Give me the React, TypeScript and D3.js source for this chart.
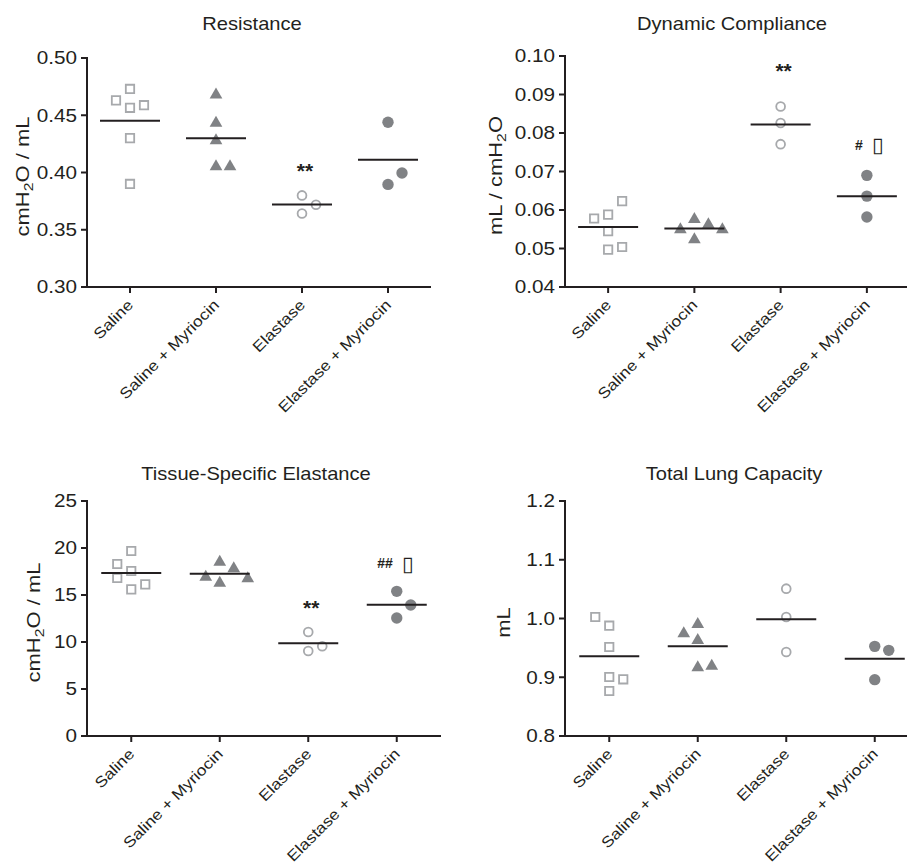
import React from 'react';
import * as d3 from 'd3';

const groups = ['Saline', 'Saline + Myriocin', 'Elastase', 'Elastase + Myriocin'];

// Resistance (cmH2O / mL)
const resSaline = [0.473, 0.4565, 0.4588, 0.463, 0.43, 0.39];
const resSalineMyr = [0.4679, 0.4431, 0.4279, 0.4051, 0.4051];
const resElastase = [0.38, 0.3718, 0.3642];
const resElastaseMyr = [0.4439, 0.3896, 0.3996];
const resTicks = [0.3, 0.35, 0.4, 0.45, 0.5];
const resMarks = ['', '', '**', ''];
const resMarkAt = [0, 0, 0.4066, 0];

// Dynamic compliance (mL / cmH2O)
const dcSaline = [0.0588, 0.0623, 0.0578, 0.0545, 0.0497, 0.0504];
const dcSalineMyr = [0.0576, 0.0523, 0.0562, 0.0549, 0.0549];
const dcElastase = [0.0869, 0.0826, 0.0771];
const dcElastaseMyr = [0.069, 0.0636, 0.0582];
const dcTicks = [0.04, 0.05, 0.06, 0.07, 0.08, 0.09, 0.1];
const dcMarks = ['', '', '**', '#\u25AF'];
const dcMarkAt = [0, 0, 0.0977, 0.0769];

// Tissue-specific elastance (cmH2O / mL)
const teSaline = [19.68, 17.55, 15.6, 16.13, 18.3, 16.81];
const teSalineMyr = [18.51, 16.28, 17.8, 16.91, 16.74];
const teElastase = [11.06, 9.04, 9.54];
const teElastaseMyr = [15.39, 12.55, 13.94];
const teTicks = [0, 5, 10, 15, 20, 25];
const teMarks = ['', '', '**', '##\u25AF'];
const teMarkAt = [0, 0, 14.29, 18.4];

// Total lung capacity (mL)
const tlcSaline = [0.9878, 0.9515, 0.9004, 0.8766, 0.8965, 1.0026];
const tlcSalineMyr = [0.9901, 0.9628, 0.9163, 0.9191, 0.9745];
const tlcElastase = [1.0508, 1.0026, 0.943];
const tlcElastaseMyr = [0.9526, 0.8959, 0.9458];
const tlcTicks = [0.8, 0.9, 1.0, 1.1, 1.2];

const INK = '#231f20';
const LIGHT = '#a7a9ac';
const DARK = '#808285';
const FONT = '"Liberation Sans", Arial, sans-serif';
const WIDE = 1.15; // the original lettering is a bit wider than Arial

const STEP = 14;
const MIN_GAP = 13.75;

// simple column swarm: points that would overlap get pushed to side columns
function swarm(vals: number[], y: (v: number) => number) {
  const placed: { col: number; py: number }[] = [];
  let moved = 0;
  return vals.map((v) => {
    const py = y(v);
    const free = (col: number) => !placed.some((p) => p.col === col && Math.abs(p.py - py) < MIN_GAP);
    let col = 0;
    if (!free(0)) {
      const s = moved % 2 === 0 ? 1 : -1;
      col = [s, -s, 2 * s, -2 * s, 3 * s, -3 * s].find(free) ?? 0;
      moved += 1;
    }
    placed.push({ col, py });
    return col * STEP;
  });
}

type STextProps = {
  x: number; y: number; size: number; rotate?: number;
  anchor?: 'start' | 'middle' | 'end'; baseline?: string;
  children: React.ReactNode;
};

const SText = ({ x, y, size, rotate = 0, anchor = 'start', baseline, children }: STextProps) => (
  <text
    transform={`translate(${x},${y}) rotate(${rotate}) scale(${WIDE},1)`}
    textAnchor={anchor}
    dominantBaseline={baseline}
    fontSize={size}
  >
    {children}
  </text>
);

type Layout = {
  x0: number; x1: number; top: number; bottom: number;
  titleX: number; titleY: number; labelX: number;
};

type PanelProps = {
  title: string;
  yLabel: React.ReactNode;
  series: number[][];
  ticks: number[];
  format: (d: number) => string;
  marks?: string[];
  markAt?: number[];
  lay: Layout;
};

const Marker = ({ kind, x, y }: { kind: number; x: number; y: number }) => {
  if (kind === 0) {
    return <path d={d3.symbol(d3.symbolSquare, 70)() as string} transform={`translate(${x},${y})`} fill="#fff" stroke={LIGHT} strokeWidth={1.8} />;
  }
  if (kind === 1) {
    return <path d={d3.symbol(d3.symbolTriangle, 70)() as string} transform={`translate(${x},${y})`} fill={DARK} />;
  }
  if (kind === 2) {
    return <circle cx={x} cy={y} r={4.4} fill="#fff" stroke={LIGHT} strokeWidth={1.8} />;
  }
  return <circle cx={x} cy={y} r={5.7} fill={DARK} />;
};

const Panel = ({ title, yLabel, series, ticks, format, marks, markAt, lay }: PanelProps) => {
  const xScale = d3.scalePoint<string>().domain(groups).range([lay.x0, lay.x1]).padding(0.5);
  const yScale = d3.scaleLinear()
    .domain([ticks[0], ticks[ticks.length - 1]])
    .range([lay.bottom, lay.top]);

  return (
    <g fontFamily={FONT} fill={INK}>
      <SText x={lay.titleX} y={lay.titleY} anchor="middle" size={17.5}>{title}</SText>
      <text
        transform={`translate(${lay.labelX}, ${(lay.top + lay.bottom) / 2 + 4}) rotate(-90) scale(1.22,1)`}
        textAnchor="middle"
        fontSize={18}
      >
        {yLabel}
      </text>

      {/* data */}
      {series.map((vals, gi) => {
        const cx = xScale(groups[gi]) as number;
        const offs = swarm(vals, yScale);
        const mean = d3.mean(vals) as number;
        return (
          <g key={groups[gi]}>
            {vals.map((v, i) => (
              <Marker key={i} kind={gi} x={cx + offs[i]} y={yScale(v)} />
            ))}
            <line x1={cx - 30} x2={cx + 30} y1={yScale(mean)} y2={yScale(mean)} stroke={INK} strokeWidth={2} />
          </g>
        );
      })}

      {/* significance marks */}
      {marks && markAt && marks.map((m, gi) => {
        if (!m) return null;
        const cx = xScale(groups[gi]) as number;
        const y = yScale(markAt[gi]);
        if (m.startsWith('*')) {
          return (
            <text key={`m${gi}`} x={cx + 3} y={y} dy="0.62em" textAnchor="middle" fontWeight="bold" fontSize={21}>{m}</text>
          );
        }
        const hashes = m.replace('\u25AF', '');
        return (
          <g key={`m${gi}`}>
            <text x={cx - 4} y={y} dy="0.36em" textAnchor="end" fontWeight="bold" fontSize={14}>{hashes}</text>
            <text x={cx + 11} y={y} dy="0.36em" textAnchor="middle" fontWeight="bold" fontSize={21} fontFamily='"DejaVu Sans"'>{'\u25AF'}</text>
          </g>
        );
      })}

      {/* y axis */}
      <line x1={lay.x0} x2={lay.x0} y1={lay.top - 1} y2={lay.bottom + 1} stroke={INK} strokeWidth={2} />
      {ticks.map((t) => (
        <g key={t}>
          <line x1={lay.x0 - 6} x2={lay.x0} y1={yScale(t)} y2={yScale(t)} stroke={INK} strokeWidth={2} />
          <SText x={lay.x0 - 10} y={yScale(t)} anchor="end" baseline="central" size={18}>{format(t)}</SText>
        </g>
      ))}

      {/* x axis */}
      <line x1={lay.x0 - 1} x2={lay.x1} y1={lay.bottom} y2={lay.bottom} stroke={INK} strokeWidth={2} />
      {groups.map((g) => {
        const cx = xScale(g) as number;
        return (
          <g key={g}>
            <line x1={cx} x2={cx} y1={lay.bottom} y2={lay.bottom + 6} stroke={INK} strokeWidth={2} />
            <SText x={cx + 4} y={lay.bottom + 19} rotate={-45} anchor="end" size={15.2}>{g}</SText>
          </g>
        );
      })}
    </g>
  );
};

const Sub2 = () => (
  <>
    <tspan dy={4} fontSize={13}>2</tspan>
    <tspan dy={-4}>O</tspan>
  </>
);

const App = () => (
  <div style={{ position: 'absolute', left: 0, top: 0 }}>
    <svg width={907} height={866} style={{ display: 'block', background: '#fff' }}>
      <Panel
        title="Resistance"
        yLabel={<>cmH<Sub2 /> / mL</>}
        series={[resSaline, resSalineMyr, resElastase, resElastaseMyr]}
        ticks={resTicks}
        format={d3.format('.2f')}
        marks={resMarks}
        markAt={resMarkAt}
        lay={{ x0: 87, x1: 431, top: 58, bottom: 287, titleX: 252, titleY: 30, labelX: 29 }}
      />
      <Panel
        title="Dynamic Compliance"
        yLabel={<>mL / cmH<Sub2 /></>}
        series={[dcSaline, dcSalineMyr, dcElastase, dcElastaseMyr]}
        ticks={dcTicks}
        format={d3.format('.2f')}
        marks={dcMarks}
        markAt={dcMarkAt}
        lay={{ x0: 565, x1: 910, top: 56, bottom: 287, titleX: 732, titleY: 30, labelX: 502 }}
      />
      <Panel
        title="Tissue-Specific Elastance"
        yLabel={<>cmH<Sub2 /> / mL</>}
        series={[teSaline, teSalineMyr, teElastase, teElastaseMyr]}
        ticks={teTicks}
        format={d3.format('d')}
        marks={teMarks}
        markAt={teMarkAt}
        lay={{ x0: 87, x1: 441, top: 501, bottom: 736, titleX: 256, titleY: 480, labelX: 40 }}
      />
      <Panel
        title="Total Lung Capacity"
        yLabel="mL"
        series={[tlcSaline, tlcSalineMyr, tlcElastase, tlcElastaseMyr]}
        ticks={tlcTicks}
        format={d3.format('.1f')}
        lay={{ x0: 565, x1: 919, top: 501, bottom: 736, titleX: 734, titleY: 480, labelX: 510 }}
      />
    </svg>
  </div>
);

export default App;
